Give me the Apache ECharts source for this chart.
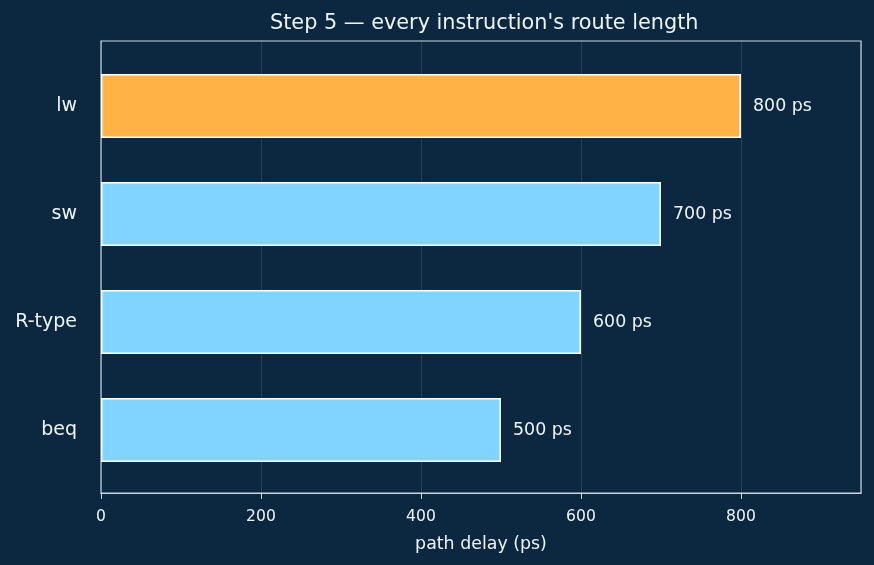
<!DOCTYPE html>
<html>
<head>
<meta charset="utf-8">
<script src="https://cdn.jsdelivr.net/npm/echarts@6/dist/echarts.min.js"></script>
<style>
  html, body { margin: 0; padding: 0; background: #0c2840; }
  #main { width: 874px; height: 565px; }
</style>
</head>
<body>
<div id="main"></div>
<script>
var instructions = ['beq', 'R-type', 'sw', 'lw'];
var delays = [500, 600, 700, 800];
var highlight = 'lw';

var chart = echarts.init(document.getElementById('main'));
var font = 'DejaVu Sans';
var txt = '#eef3f8';
var frame = '#c9d6e3';

var option = {
    backgroundColor: '#0c2840',
    animation: false,
    textStyle: { fontFamily: font },
    title: {
        text: "Step 5 \u2014 every instruction's route length",
        left: 265,
        top: 8,
        textStyle: { color: txt, fontSize: 20.8, fontWeight: 'normal', fontFamily: font }
    },
    grid: [
        // outer frame, matches the axes box
        { left: 101, right: 13, top: 41, bottom: 72, show: true, borderColor: frame, borderWidth: 1.2 },
        // bars (the categories sit inside a small margin)
        { left: 101, right: 13, top: 52, bottom: 81 }
    ],
    xAxis: [{
        gridIndex: 0,
        type: 'value',
        min: 0, max: 950, interval: 200,
        name: 'path delay (ps)',
        nameLocation: 'middle',
        nameGap: 43,
        nameTextStyle: { color: txt, fontSize: 17.4, fontFamily: font },
        axisLine: { show: true, lineStyle: { color: frame, width: 1.2 } },
        axisTick: { show: true, length: 6, lineStyle: { color: frame } },
        axisLabel: { color: txt, fontSize: 15.6, fontFamily: font, margin: 16, showMaxLabel: false },
        splitLine: { show: true, lineStyle: { color: 'rgba(255,255,255,0.12)', width: 1 } }
    }, {
        gridIndex: 1,
        type: 'value',
        min: 0, max: 950,
        show: false
    }],
    yAxis: [{
        gridIndex: 0,
        type: 'value',
        show: false
    }, {
        gridIndex: 1,
        type: 'category',
        data: instructions,
        axisLine: { show: false },
        axisTick: { show: false },
        axisLabel: { color: txt, fontSize: 19, fontFamily: font, margin: 24 },
        splitLine: { show: false }
    }],
    series: [{
        type: 'bar',
        xAxisIndex: 1,
        yAxisIndex: 1,
        barWidth: 64,
        data: instructions.map(function (name, i) {
            return {
                value: delays[i],
                itemStyle: { color: name === highlight ? '#ffb347' : '#80d4ff' }
            };
        }),
        itemStyle: { borderColor: '#ffffff', borderWidth: 1.5 },
        label: {
            show: true,
            position: 'right',
            distance: 12,
            formatter: '{c} ps',
            color: txt,
            fontSize: 17.4,
            fontFamily: font
        }
    }]
};

chart.setOption(option);
</script>
</body>
</html>
